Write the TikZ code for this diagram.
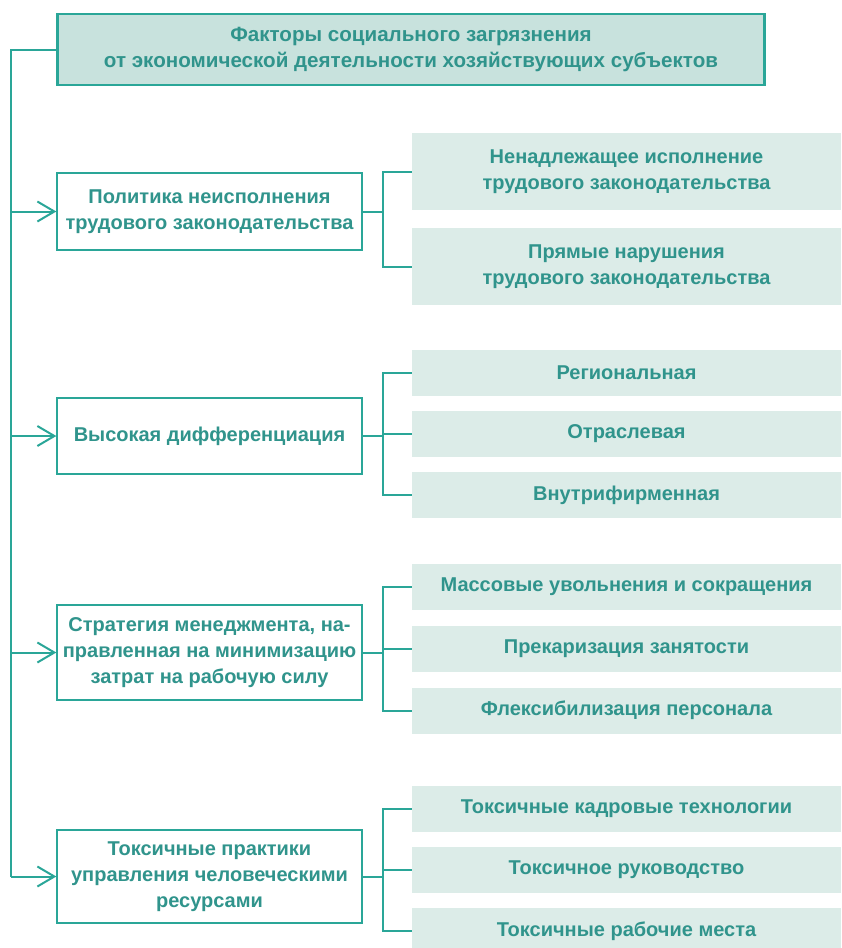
\documentclass[tikz,border=0pt]{standalone}
\usepackage{fontspec}
\setmainfont{Liberation Sans}
\usetikzlibrary{arrows.meta}
\definecolor{lineC}{RGB}{42,166,152}
\definecolor{textC}{RGB}{48,148,140}
\definecolor{topFill}{RGB}{200,226,221}
\definecolor{subFill}{RGB}{220,236,232}
\tikzset{
  txt/.style={font=\fontsize{20}{26}\selectfont\bfseries, text=textC, align=center, inner sep=0pt},
  topbox/.style={txt, font=\fontsize{20.6}{26}\selectfont\bfseries, draw=lineC, line width=2.2pt, fill=topFill, minimum width=707pt, minimum height=71pt},
  leftbox/.style={txt, draw=lineC, line width=1.3pt, fill=white, minimum width=305pt},
  subbox/.style={txt, fill=subFill, minimum width=429pt},
  conn/.style={draw=lineC, line width=2pt},
  arr/.style={conn, -{Straight Barb[length=17pt, width=20pt, line width=2pt]}}
}
\begin{document}
\begin{tikzpicture}[x=1pt, y=-1pt]
\useasboundingbox (0,0) rectangle (841,948);
\node[topbox] (top) at (411,49.5) {Факторы социального загрязнения\\от экономической деятельности хозяйствующих субъектов};

\node[leftbox, minimum height=77pt] (l1) at (209.5,211.5) {Политика неисполнения\\трудового законодательства};
\node[leftbox, minimum height=76pt] (l2) at (209.5,436) {Высокая дифференциация};
\node[leftbox, minimum height=95pt] (l3) at (209.5,652.5) {Стратегия менеджмента, на-\\правленная на минимизацию\\затрат на рабочую силу};
\node[leftbox, minimum height=93pt] (l4) at (209.5,876.5) {Токсичные практики\\управления человеческими\\ресурсами};

\node[subbox, minimum height=77pt] (r1a) at (626.5,171.5) {Ненадлежащее исполнение\\трудового законодательства};
\node[subbox, minimum height=77pt] (r1b) at (626.5,266.5) {Прямые нарушения\\трудового законодательства};

\node[subbox, minimum height=46pt] (r2a) at (626.5,373) {Региональная};
\node[subbox, minimum height=46pt] (r2b) at (626.5,433.5) {Отраслевая};
\node[subbox, minimum height=46pt] (r2c) at (626.5,495) {Внутрифирменная};

\node[subbox, minimum height=46pt] (r3a) at (626.5,587) {Массовые увольнения и сокращения};
\node[subbox, minimum height=46pt] (r3b) at (626.5,648.5) {Прекаризация занятости};
\node[subbox, minimum height=46pt] (r3c) at (626.5,710.5) {Флексибилизация персонала};

\node[subbox, minimum height=46pt] (r4a) at (626.5,809) {Токсичные кадровые технологии};
\node[subbox, minimum height=46pt] (r4b) at (626.5,870) {Токсичное руководство};
\node[subbox, minimum height=46pt] (r4c) at (626.5,931) {Токсичные рабочие места};

\coordinate (T) at (11,49.5);
\coordinate (B) at (383,0);

% trunk
\draw[conn] (top.west) -- (T) -- (T |- l4.west);
\draw[arr] (T |- l1.west) -- (l1.west);
\draw[arr] (T |- l2.west) -- (l2.west);
\draw[arr] (T |- l3.west) -- (l3.west);
\draw[arr] (T |- l4.west) -- (l4.west);

% group 1
\draw[conn] (l1.east) -- (l1.east -| B);
\draw[conn] (r1a.west) -- (r1a.west -| B) -- (r1b.west -| B) -- (r1b.west);
% group 2
\draw[conn] (l2.east) -- (l2.east -| B);
\draw[conn] (r2a.west) -- (r2a.west -| B) -- (r2c.west -| B) -- (r2c.west);
\draw[conn] (r2b.west -| B) -- (r2b.west);
% group 3
\draw[conn] (l3.east) -- (l3.east -| B);
\draw[conn] (r3a.west) -- (r3a.west -| B) -- (r3c.west -| B) -- (r3c.west);
\draw[conn] (r3b.west -| B) -- (r3b.west);
% group 4
\draw[conn] (l4.east) -- (l4.east -| B);
\draw[conn] (r4a.west) -- (r4a.west -| B) -- (r4c.west -| B) -- (r4c.west);
\draw[conn] (r4b.west -| B) -- (r4b.west);
\end{tikzpicture}
\end{document}
